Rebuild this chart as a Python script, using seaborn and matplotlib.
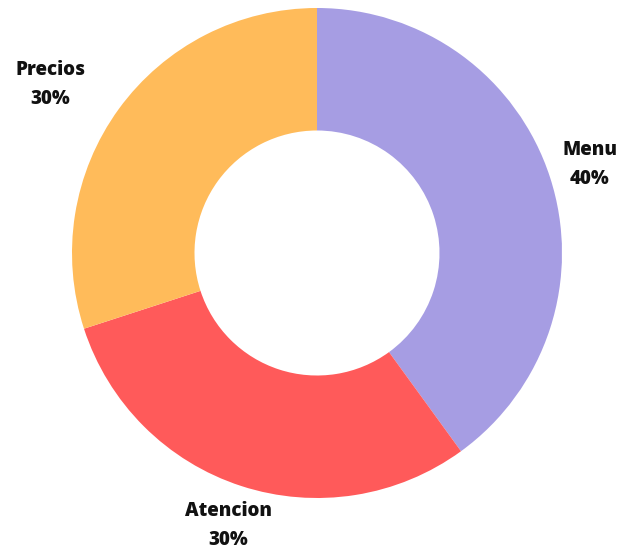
import numpy as np
import matplotlib.pyplot as plt
import seaborn as sns

# Datos
categorias = ['Menu', 'Atencion', 'Precios']
porcentajes = [40, 30, 30]
colores = ['#A69DE3', '#FF5A5A', '#FFBB5A']

sns.set_style('white')
plt.rcParams['font.family'] = ['Open Sans', 'DejaVu Sans']

fig = plt.figure(figsize=(6.19, 5.5), dpi=100)
ax = fig.add_axes([0, 0, 1, 1])

wedges, _ = ax.pie(
    porcentajes,
    colors=colores,
    startangle=90,
    counterclock=False,
    wedgeprops=dict(width=0.5, linewidth=0),
)

# Etiquetas fuera del anillo
alineacion = ['center', 'center', 'right']
for w, cat, pct, ha in zip(wedges, categorias, porcentajes, alineacion):
    ang = np.deg2rad((w.theta1 + w.theta2) / 2)
    ax.text(1.17 * np.cos(ang), 1.17 * np.sin(ang), f'{cat}\n{pct}%',
            ha=ha, va='center', multialignment='center',
            fontsize=13.5, fontweight=800,
            linespacing=1.6, color='#111111')

# Encuadre: centro del anillo en (317, 253) px, radio 245 px
ax.set_xlim(-317 / 245, (619 - 317) / 245)
ax.set_ylim(-(550 - 253) / 245, 253 / 245)
ax.set_aspect('auto')
ax.axis('off')

plt.savefig('out.png', dpi=100, facecolor='white')
